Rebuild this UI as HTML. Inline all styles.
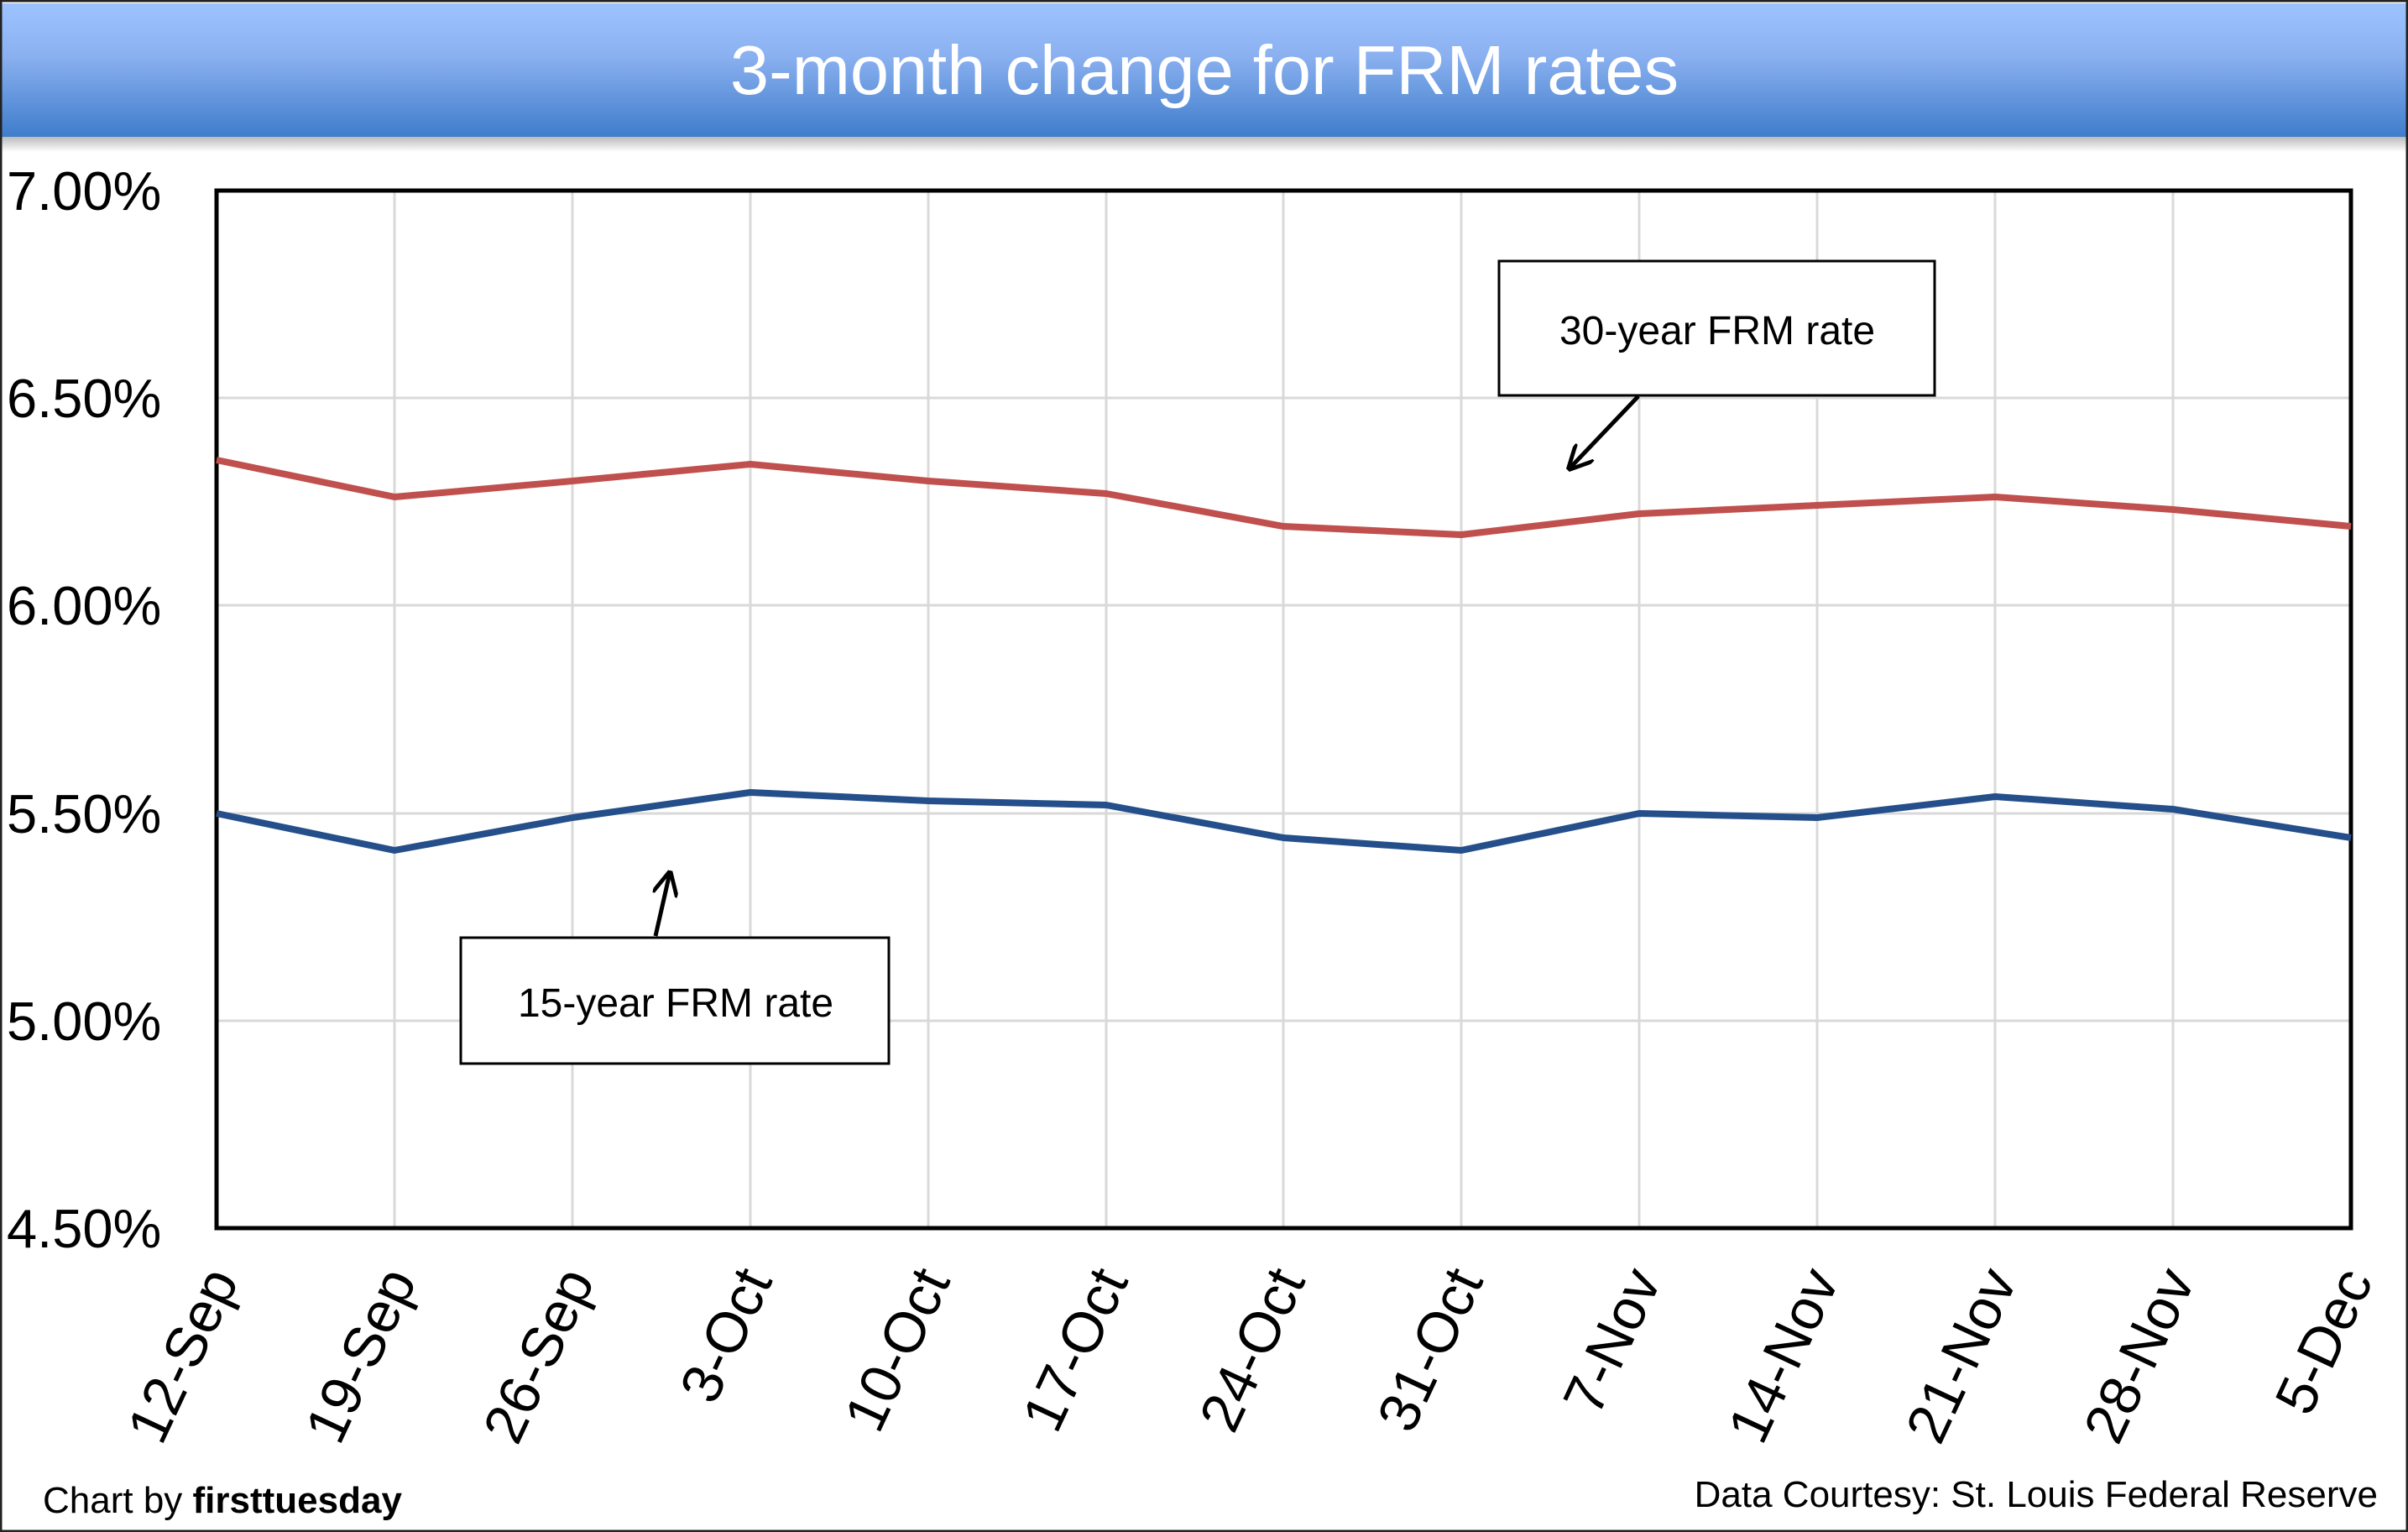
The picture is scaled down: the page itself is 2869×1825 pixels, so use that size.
<!DOCTYPE html>
<html><head><meta charset="utf-8"><style>
html,body{margin:0;padding:0;background:#fff}
svg{display:block}
text{font-family:"Liberation Sans",sans-serif}
</style></head><body>
<svg width="2869" height="1825" viewBox="0 0 2869 1825" xmlns="http://www.w3.org/2000/svg">
<defs>
<linearGradient id="g" x1="0" y1="0" x2="0" y2="1">
<stop offset="0" stop-color="#9dc3ff"/><stop offset="0.4" stop-color="#8ab0f0"/><stop offset="1" stop-color="#3f7dcb"/>
</linearGradient>
<linearGradient id="sh" x1="0" y1="0" x2="0" y2="1">
<stop offset="0" stop-color="#bbb"/><stop offset="1" stop-color="#fff"/>
</linearGradient>
<marker id="ar" viewBox="0 0 10 10" refX="9" refY="5" markerWidth="6" markerHeight="6" orient="auto-start-reverse">
<path d="M0,0 L10,5 L0,10" fill="none" stroke="#000" stroke-width="1.6"/>
</marker>
</defs>
<rect x="0" y="0" width="2869" height="1825" fill="#fff"/>
<rect x="0" y="163" width="2869" height="18" fill="url(#sh)"/>
<rect x="2" y="4" width="2865" height="159" fill="url(#g)"/>
<text x="1435" y="112" font-size="83" fill="#fff" text-anchor="middle">3-month change for FRM rates</text>
<rect x="1" y="1" width="2867" height="1823" fill="none" stroke="#222" stroke-width="3"/>
<g stroke="#d9d9d9" stroke-width="3">
<line x1="258" y1="474" x2="2801" y2="474"/><line x1="258" y1="721" x2="2801" y2="721"/>
<line x1="258" y1="969" x2="2801" y2="969"/><line x1="258" y1="1216" x2="2801" y2="1216"/>
<line x1="470" y1="227" x2="470" y2="1463"/><line x1="682" y1="227" x2="682" y2="1463"/>
<line x1="894" y1="227" x2="894" y2="1463"/><line x1="1106" y1="227" x2="1106" y2="1463"/>
<line x1="1318" y1="227" x2="1318" y2="1463"/><line x1="1529" y1="227" x2="1529" y2="1463"/>
<line x1="1741" y1="227" x2="1741" y2="1463"/><line x1="1953" y1="227" x2="1953" y2="1463"/>
<line x1="2165" y1="227" x2="2165" y2="1463"/><line x1="2377" y1="227" x2="2377" y2="1463"/>
<line x1="2589" y1="227" x2="2589" y2="1463"/>
</g>
<rect x="258" y="227" width="2543" height="1236" fill="none" stroke="#000" stroke-width="5"/>
<g font-size="65" fill="#000">
<text x="8" y="250">7.00%</text><text x="8" y="497">6.50%</text><text x="8" y="744">6.00%</text>
<text x="8" y="992">5.50%</text><text x="8" y="1239">5.00%</text><text x="8" y="1486">4.50%</text>
</g>
<polyline fill="none" stroke="#c0504d" stroke-width="8" stroke-linejoin="round" points="258,548 470,592 682,573 894,553 1106,573 1318,588 1529,627 1741,637 1953,612 2165,602 2377,592 2589,607 2801,627"/>
<polyline fill="none" stroke="#254f8a" stroke-width="8" stroke-linejoin="round" points="258,969 470,1013 682,974 894,944 1106,954 1318,959 1529,998 1741,1013 1953,969 2165,974 2377,949 2589,964 2801,998"/>
<rect x="1786" y="311" width="519" height="160" fill="#fff" stroke="#000" stroke-width="3"/>
<text x="2046" y="410" font-size="48" text-anchor="middle">30-year FRM rate</text>
<line x1="1952" y1="472" x2="1870" y2="558" stroke="#000" stroke-width="5" marker-end="url(#ar)"/>
<rect x="549" y="1117" width="510" height="150" fill="#fff" stroke="#000" stroke-width="3"/>
<text x="805" y="1211" font-size="48" text-anchor="middle">15-year FRM rate</text>
<line x1="781" y1="1115" x2="798" y2="1040" stroke="#000" stroke-width="5" marker-end="url(#ar)"/>
<g font-size="68" text-anchor="end">
<text transform="translate(285,1525) rotate(-65)">12-Sep</text>
<text transform="translate(497,1525) rotate(-65)">19-Sep</text>
<text transform="translate(709,1525) rotate(-65)">26-Sep</text>
<text transform="translate(921,1525) rotate(-65)">3-Oct</text>
<text transform="translate(1133,1525) rotate(-65)">10-Oct</text>
<text transform="translate(1345,1525) rotate(-65)">17-Oct</text>
<text transform="translate(1556,1525) rotate(-65)">24-Oct</text>
<text transform="translate(1768,1525) rotate(-65)">31-Oct</text>
<text transform="translate(1980,1525) rotate(-65)">7-Nov</text>
<text transform="translate(2192,1525) rotate(-65)">14-Nov</text>
<text transform="translate(2404,1525) rotate(-65)">21-Nov</text>
<text transform="translate(2616,1525) rotate(-65)">28-Nov</text>
<text transform="translate(2828,1525) rotate(-65)">5-Dec</text>
</g>
<text x="51" y="1802" font-size="44">Chart by <tspan font-weight="bold">firsttuesday</tspan></text>
<text x="2833" y="1795" font-size="44" text-anchor="end">Data Courtesy: St. Louis Federal Reserve</text>
</svg>
</body></html>
